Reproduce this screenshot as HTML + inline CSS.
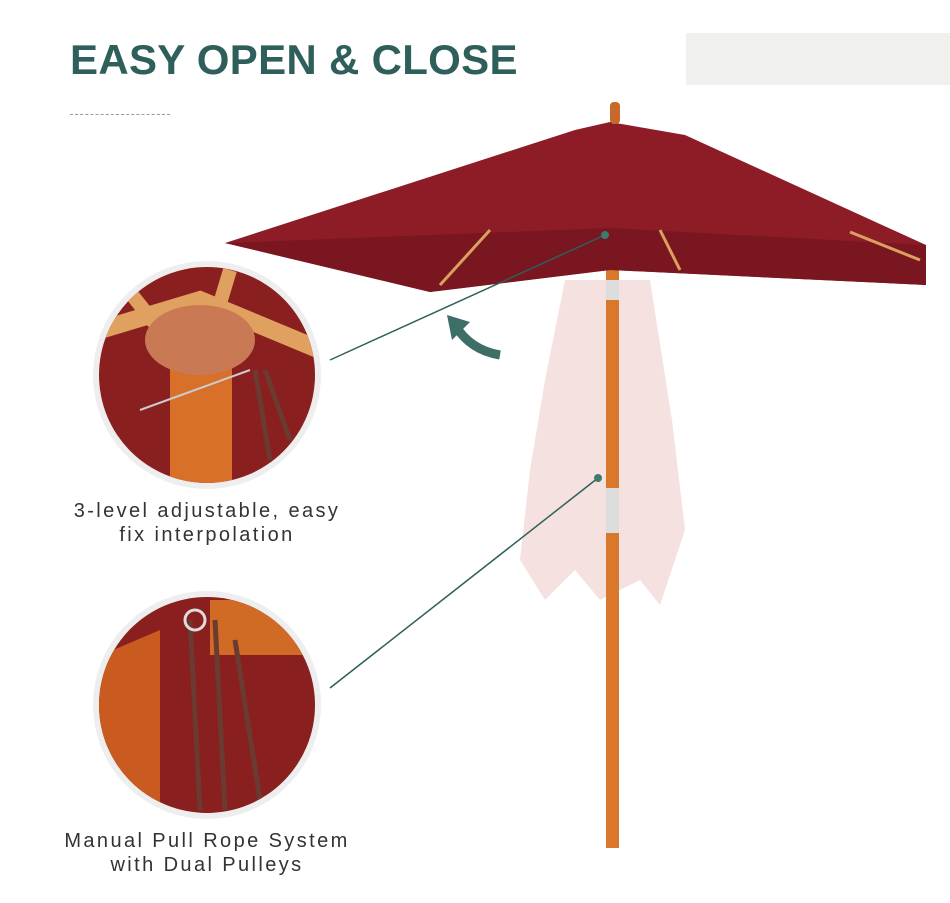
<!DOCTYPE html>
<html><head><meta charset="utf-8"><style>
html,body{margin:0;padding:0;background:#fff;}
body{width:950px;height:903px;position:relative;overflow:hidden;font-family:"Liberation Sans",sans-serif;}
.t{position:absolute;left:70px;top:36px;font-size:42px;font-weight:bold;color:#2f5f5a;letter-spacing:0.3px;}
.cap{position:absolute;width:340px;left:37px;text-align:center;font-size:20px;color:#333;letter-spacing:2.4px;line-height:24px;}
</style></head><body>
<div class="t">EASY OPEN &amp; CLOSE</div>
<div style="position:absolute;left:686px;top:33px;width:264px;height:52px;background:#f0f0ef"></div>
<div style="position:absolute;left:70px;top:114px;width:100px;border-top:1px dashed #999"></div>
<svg width="950" height="903" style="position:absolute;left:0;top:0">
<defs>
<clipPath id="c1"><circle cx="207" cy="375" r="108"/></clipPath>
<clipPath id="c2"><circle cx="207" cy="705" r="108"/></clipPath>
</defs>
<path d="M565,280 L650,280 L672,420 L685,530 L660,605 L640,580 L600,600 L575,570 L545,600 L520,560 L530,470 L545,380 Z" fill="#f5dede" opacity="0.9"/>
<rect x="606" y="228" width="13" height="620" fill="#d9782a"/>
<rect x="606" y="280" width="13" height="20" fill="#ddd"/>
<rect x="606" y="488" width="13" height="45" fill="#ddd"/>
<path d="M225,243 L575,130 L610,122 L685,135 L926,245 L926,285 L610,270 L430,292 Z" fill="#8e1c27"/>
<path d="M225,243 L610,228 L926,245 L926,285 L610,270 L430,292 Z" fill="#7a1620"/>
<path d="M440,285 L490,230 M660,230 L680,270 M850,232 L920,260" stroke="#d9a060" stroke-width="3"/>
<rect x="610" y="102" width="10" height="22" rx="4" fill="#c8692a"/>
<path d="M500,355 Q470,350 455,325" stroke="#3d6e67" stroke-width="9" fill="none"/>
<path d="M447,315 L470,322 L452,340 Z" fill="#3d6e67"/>
<line x1="330" y1="360" x2="605" y2="235" stroke="#2f5f5a" stroke-width="1.5"/>
<line x1="330" y1="688" x2="598" y2="478" stroke="#2f5f5a" stroke-width="1.5"/>
<circle cx="605" cy="235" r="4" fill="#3d7a70"/>
<circle cx="598" cy="478" r="4" fill="#3d7a70"/>
<circle cx="207" cy="375" r="114" fill="#eeeeee"/>
<g clip-path="url(#c1)">
<rect x="90" y="260" width="240" height="240" fill="#8a1f20"/>
<path d="M100,330 L200,300 L320,350" stroke="#e0a060" stroke-width="18" fill="none"/>
<path d="M120,280 L160,330 M230,270 L215,320" stroke="#e0a060" stroke-width="14"/>
<rect x="170" y="360" width="62" height="125" fill="#d8702a"/>
<ellipse cx="200" cy="340" rx="55" ry="35" fill="#c97a55"/>
<path d="M255,370 L270,460 M265,370 L290,440" stroke="#6b3a30" stroke-width="5"/>
<path d="M140,410 L250,370" stroke="#ccc" stroke-width="2"/>
</g>
<circle cx="207" cy="705" r="114" fill="#eeeeee"/>
<g clip-path="url(#c2)">
<rect x="90" y="590" width="240" height="240" fill="#8a1f20"/>
<path d="M90,660 L160,630 L160,830 L90,830 Z" fill="#c95a20"/>
<rect x="210" y="600" width="120" height="55" fill="#d06a25"/>
<path d="M190,620 L200,810 M215,620 L225,810 M235,640 L260,800" stroke="#6b3a30" stroke-width="5"/>
<circle cx="195" cy="620" r="10" fill="none" stroke="#ddd" stroke-width="3"/>
</g>
</svg>
<div class="cap" style="top:499px">3-level adjustable, easy<br>fix interpolation</div>
<div class="cap" style="top:829px">Manual Pull Rope System<br>with Dual Pulleys</div>
</body></html>
